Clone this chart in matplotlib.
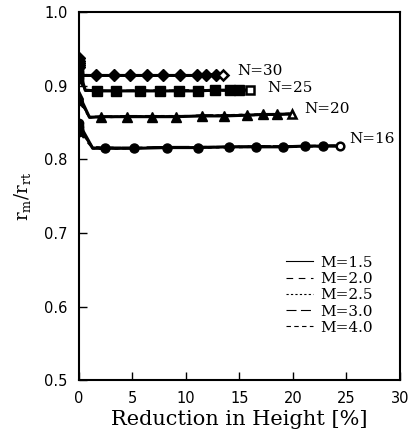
import matplotlib
matplotlib.use("Agg")
import matplotlib.pyplot as plt
from matplotlib.lines import Line2D

# ---- data ----
m_labels = ["M=1.5", "M=2.0", "M=2.5", "M=3.0", "M=4.0"]
m_styles = ["-", (0, (6, 5)), (0, (2, 2)), (0, (9, 4)), (0, (4, 3))]

red_n30 = [0, 0.4, 1.6, 3.3, 4.8, 6.4, 7.9, 9.5, 11.0, 11.9, 12.8, 13.5]
n30_m15 = [0.938, 0.914, 0.914, 0.914, 0.914, 0.914, 0.914, 0.914, 0.914, 0.915, 0.915, 0.915]
n30_m20 = [0.934, 0.914, 0.913, 0.914, 0.914, 0.914, 0.914, 0.914, 0.914, 0.914, 0.915, 0.915]
n30_m25 = [0.931, 0.915, 0.914, 0.914, 0.914, 0.915, 0.914, 0.914, 0.915, 0.915, 0.915, 0.915]
n30_m30 = [0.928, 0.914, 0.914, 0.914, 0.914, 0.914, 0.915, 0.914, 0.914, 0.915, 0.915, 0.916]
n30_m40 = [0.925, 0.913, 0.914, 0.914, 0.914, 0.914, 0.914, 0.915, 0.914, 0.915, 0.915, 0.915]

red_n25 = [0, 0.6, 1.7, 3.5, 5.7, 7.6, 9.4, 11.1, 12.7, 14.1, 15.0, 16.0]
n25_m15 = [0.923, 0.894, 0.893, 0.893, 0.893, 0.893, 0.893, 0.893, 0.894, 0.894, 0.894, 0.894]
n25_m20 = [0.919, 0.894, 0.893, 0.893, 0.893, 0.893, 0.893, 0.894, 0.894, 0.894, 0.894, 0.895]
n25_m25 = [0.915, 0.893, 0.893, 0.893, 0.893, 0.894, 0.893, 0.893, 0.894, 0.894, 0.895, 0.894]
n25_m30 = [0.912, 0.894, 0.894, 0.893, 0.893, 0.893, 0.894, 0.894, 0.894, 0.894, 0.894, 0.895]
n25_m40 = [0.909, 0.893, 0.893, 0.893, 0.894, 0.893, 0.893, 0.894, 0.893, 0.894, 0.894, 0.894]

red_n20 = [0, 1.0, 2.1, 4.5, 6.8, 9.1, 11.5, 13.6, 15.7, 17.2, 18.5, 19.9]
n20_m15 = [0.888, 0.857, 0.858, 0.858, 0.858, 0.858, 0.859, 0.859, 0.860, 0.861, 0.861, 0.862]
n20_m20 = [0.885, 0.858, 0.857, 0.858, 0.858, 0.859, 0.859, 0.860, 0.860, 0.861, 0.861, 0.861]
n20_m25 = [0.883, 0.857, 0.858, 0.858, 0.859, 0.859, 0.859, 0.860, 0.861, 0.861, 0.862, 0.862]
n20_m30 = [0.881, 0.858, 0.858, 0.859, 0.859, 0.858, 0.860, 0.860, 0.860, 0.861, 0.861, 0.862]
n20_m40 = [0.879, 0.857, 0.857, 0.858, 0.858, 0.859, 0.859, 0.859, 0.860, 0.860, 0.861, 0.861]

red_n16 = [0, 1.3, 2.4, 5.2, 8.2, 11.1, 14.0, 16.6, 19.1, 21.1, 22.8, 24.4]
n16_m15 = [0.849, 0.815, 0.815, 0.815, 0.816, 0.816, 0.817, 0.817, 0.817, 0.818, 0.818, 0.818]
n16_m20 = [0.846, 0.816, 0.816, 0.816, 0.816, 0.817, 0.817, 0.818, 0.818, 0.818, 0.818, 0.819]
n16_m25 = [0.843, 0.815, 0.814, 0.815, 0.816, 0.816, 0.816, 0.817, 0.817, 0.817, 0.818, 0.818]
n16_m30 = [0.840, 0.817, 0.816, 0.816, 0.817, 0.817, 0.817, 0.818, 0.818, 0.818, 0.819, 0.819]
n16_m40 = [0.837, 0.815, 0.815, 0.815, 0.816, 0.816, 0.817, 0.817, 0.817, 0.818, 0.818, 0.818]

groups = [
    ("N=30", "D", red_n30, [n30_m15, n30_m20, n30_m25, n30_m30, n30_m40], (14.8, 0.920)),
    ("N=25", "s", red_n25, [n25_m15, n25_m20, n25_m25, n25_m30, n25_m40], (17.6, 0.897)),
    ("N=20", "^", red_n20, [n20_m15, n20_m20, n20_m25, n20_m30, n20_m40], (21.1, 0.868)),
    ("N=16", "o", red_n16, [n16_m15, n16_m20, n16_m25, n16_m30, n16_m40], (25.3, 0.827)),
]

x_ticks = [0, 5, 10, 15, 20, 25, 30]
y_ticks = [0.5, 0.6, 0.7, 0.8, 0.9, 1.0]

# ---- figure ----
fig = plt.figure(figsize=(4.17, 4.34), dpi=100)
ax = fig.add_axes([0.189, 0.124, 0.770, 0.848])

serif = "DejaVu Serif"
for name, mk, xs, series, (tx, ty) in groups:
    for i, (ys, ls) in enumerate(zip(series, m_styles)):
        ax.plot(xs, ys, color="black", linestyle=ls, linewidth=2.2 if i == 0 else 1.4,
                zorder=2)
    ax.plot([xs[0]] * len(series), [s[0] for s in series], linestyle="none",
            marker=mk, markersize=6, color="black", zorder=3)
    ax.plot(xs[2:-1], series[0][2:-1], linestyle="none", marker=mk, markersize=6.5,
            color="black", zorder=3)
    ax.plot(xs[-1:], series[0][-1:], linestyle="none", marker=mk, markersize=5.5,
            markerfacecolor="white", markeredgecolor="black", markeredgewidth=1.8, zorder=3)
    ax.text(tx, ty, name, fontsize=11, family=serif, ha="left", va="center")

ax.set_xlim(0, 30)
ax.set_ylim(0.5, 1.0)
ax.set_xticks(x_ticks)
ax.set_yticks(y_ticks)
ax.set_xticklabels([str(v) for v in x_ticks])
ax.set_yticklabels([f"{v:.1f}" for v in y_ticks])
ax.tick_params(direction="in", length=6, width=1, labelsize=10.5, pad=8)
for sp in ax.spines.values():
    sp.set_linewidth(1.5)

ax.set_xlabel("Reduction in Height [%]", fontsize=15, family=serif, labelpad=3)
ax.set_ylabel(r"$\mathregular{r_m/r_{rt}}$", fontsize=13, family=serif, labelpad=8)

handles = [Line2D([], [], color="black", linestyle=ls, linewidth=0.8) for ls in m_styles]
ax.legend(handles, m_labels, loc="upper left", bbox_to_anchor=(0.625, 0.355),
          frameon=False, prop={"family": serif, "size": 11}, handlelength=1.8,
          handletextpad=0.5, labelspacing=0.15, borderaxespad=0)

fig.savefig("out.png", dpi=100)
